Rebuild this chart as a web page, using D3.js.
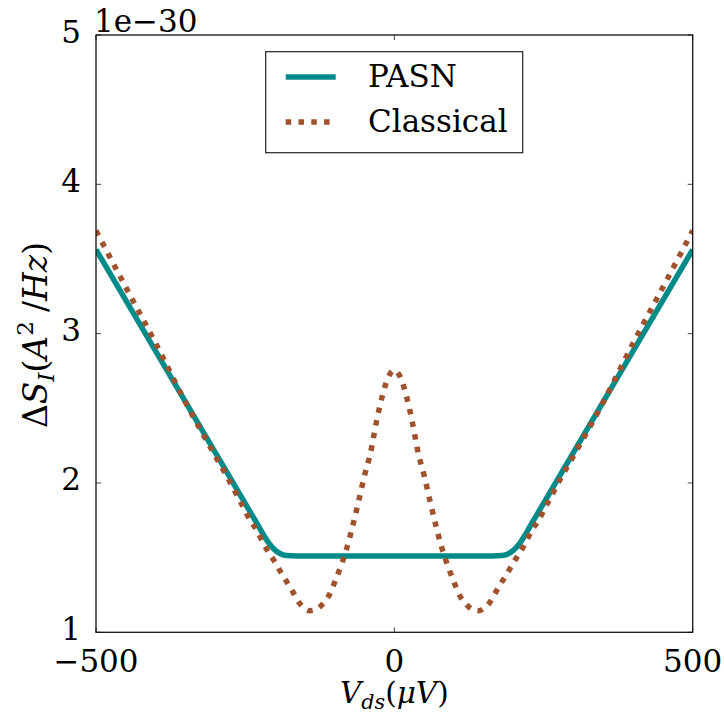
<!DOCTYPE html>
<html><head><meta charset="utf-8">
<script src="https://cdnjs.cloudflare.com/ajax/libs/d3/7.8.5/d3.min.js"></script>
<style>
html,body{margin:0;padding:0;background:#fff;}
text{font-family:"DejaVu Serif",serif;fill:#000;}
</style></head>
<body><svg id="chart" width="724" height="720"></svg>
<script>
// ---- data (values in units of 1e-30 A^2/Hz) ----
const pasnV   = [-500,-400,-300,-240,-230,-220,-210,-200,-190,-180,-165,0,165,180,190,200,210,220,230,240,300,400,500];
const pasnS   = [3.563,2.883,2.203,1.795,1.727,1.657,1.595,1.550,1.525,1.514,1.511,1.511,1.511,1.514,1.525,1.550,1.595,1.657,1.727,1.795,2.203,2.883,3.563];
const classV  = [-500,-450,-400,-350,-300,-280,-260,-240,-230,-220,-210,-200,-190,-180,-170,-160,-150,-142,-130,-120,-110,-100,-90,-80,-70,-60,-50,-40,-30,-20,-10,0,
                 10,20,30,40,50,60,70,80,90,100,110,120,130,142,150,160,170,180,190,200,210,220,230,240,260,280,300,350,400,450,500];
const classS  = [3.69,3.31,2.935,2.54,2.18,2.04,1.89,1.74,1.68,1.60,1.53,1.47,1.40,1.336,1.27,1.20,1.16,1.145,1.155,1.19,1.243,1.335,1.44,1.56,1.71,1.875,2.05,2.20,2.41,2.585,2.71,2.755,
                 2.71,2.585,2.41,2.20,2.05,1.875,1.71,1.56,1.44,1.335,1.243,1.19,1.155,1.145,1.16,1.20,1.27,1.336,1.40,1.47,1.53,1.60,1.68,1.74,1.89,2.04,2.18,2.54,2.935,3.31,3.69];
const xTicks = [-500,0,500];
const yTicks = [1,2,3,4,5];
const seriesNames = ["PASN","Classical"];
const colors = ["#008B8B","#A0522D"];

const svg = d3.select("#chart");
const L = 96, R = 692.7, T = 35, B = 632.3;
const x = d3.scaleLinear().domain([-500,500]).range([L,R]);
const y = d3.scaleLinear().domain([1,5]).range([B,T]);
const FS = 31;

svg.append("defs").append("clipPath").attr("id","clip")
  .append("rect").attr("x",L).attr("y",T).attr("width",R-L).attr("height",B-T);

const line = d3.line().x(d=>x(d[0])).y(d=>y(d[1])).curve(d3.curveMonotoneX);
const g = svg.append("g").attr("clip-path","url(#clip)");
g.append("path").datum(pasnV.map((v,i)=>[v,pasnS[i]]))
  .attr("d",line).attr("fill","none").attr("stroke",colors[0]).attr("stroke-width",5.5);
g.append("path").datum(classV.map((v,i)=>[v,classS[i]]))
  .attr("d",line).attr("fill","none").attr("stroke",colors[1]).attr("stroke-width",5.5)
  .attr("stroke-dasharray","5.5,7.3");

// ticks (inward, all four sides)
const tk = svg.append("g").attr("stroke","#444").attr("stroke-width",1);
xTicks.forEach(t=>{
  tk.append("line").attr("x1",x(t)).attr("x2",x(t)).attr("y1",B).attr("y2",B-5);
  tk.append("line").attr("x1",x(t)).attr("x2",x(t)).attr("y1",T).attr("y2",T+5);
});
yTicks.forEach(t=>{
  tk.append("line").attr("y1",y(t)).attr("y2",y(t)).attr("x1",L).attr("x2",L+5);
  tk.append("line").attr("y1",y(t)).attr("y2",y(t)).attr("x1",R).attr("x2",R-5);
});
// frame
svg.append("rect").attr("x",L).attr("y",T).attr("width",R-L).attr("height",B-T)
  .attr("fill","none").attr("stroke","#111").attr("stroke-width",1.3);

// tick labels
xTicks.forEach(t=>{
  svg.append("text").attr("x",x(t)).attr("y",672).attr("text-anchor","middle")
    .attr("font-size",FS).text(d3.format("")(t).replace("-","\u2212"));
});
yTicks.forEach(t=>{
  svg.append("text").attr("x",81).attr("y",y(t)+7.5).attr("text-anchor","end")
    .attr("font-size",FS).text(t);
});
svg.append("text").attr("x",94).attr("y",32).attr("font-size",FS).text("1e\u221230");

// axis labels
const xl = svg.append("text").attr("x",(L+R)/2).attr("y",703).attr("text-anchor","middle").attr("font-size",29.5);
xl.append("tspan").attr("font-style","italic").text("V");
xl.append("tspan").attr("font-style","italic").attr("font-size",29.5*0.7).attr("dy",6).text("ds");
xl.append("tspan").attr("dy",-6).text("(");
xl.append("tspan").attr("font-style","italic").text("\u03BCV");
xl.append("tspan").text(")");

const YF = 33;
const yl = svg.append("text").attr("transform",`translate(47,335) rotate(-90)`)
  .attr("text-anchor","middle").attr("font-size",YF);
yl.append("tspan").text("\u0394");
yl.append("tspan").attr("font-style","italic").text("S");
yl.append("tspan").attr("font-style","italic").attr("font-size",YF*0.7).attr("dy",7).text("I");
yl.append("tspan").attr("dy",-7).text("(");
yl.append("tspan").attr("font-style","italic").text("A");
yl.append("tspan").attr("font-size",YF*0.7).attr("dy",-14).text("2");
yl.append("tspan").attr("dy",14).attr("dx",9).text("/");
yl.append("tspan").attr("font-style","italic").text("Hz");
yl.append("tspan").text(")");

// legend
const lg = svg.append("g");
lg.append("rect").attr("x",265.7).attr("y",51.7).attr("width",257).attr("height",101)
  .attr("fill","#fff").attr("stroke","#222").attr("stroke-width",1.2);
const ly = [77,122];
seriesNames.forEach((n,i)=>{
  lg.append("line").attr("x1",285.7).attr("x2",335.7).attr("y1",ly[i]).attr("y2",ly[i])
    .attr("stroke",colors[i]).attr("stroke-width",5.5)
    .attr("stroke-dasharray",i===0?null:"5.5,7.3");
  lg.append("text").attr("x",368).attr("y",ly[i]+10).attr("font-size",FS).text(n);
});
</script></body></html>
